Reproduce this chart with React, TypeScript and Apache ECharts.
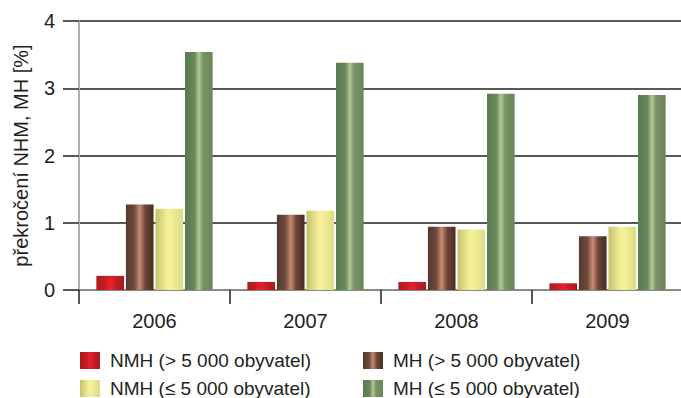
import React, { useEffect, useRef } from "react";
import * as echarts from "echarts";

const years = ["2006", "2007", "2008", "2009"];
const nmhBig = [0.21, 0.12, 0.12, 0.1];
const mhBig = [1.27, 1.12, 0.94, 0.8];
const nmhSmall = [1.21, 1.18, 0.9, 0.94];
const mhSmall = [3.54, 3.38, 2.92, 2.9];
const names = [
  "NMH (> 5 000 obyvatel)",
  "MH (> 5 000 obyvatel)",
  "NMH (≤ 5 000 obyvatel)",
  "MH (≤ 5 000 obyvatel)",
];

const FONT = "Liberation Sans, Arial, sans-serif";

function grad(stops: [number, string][]) {
  return new echarts.graphic.LinearGradient(
    0, 0, 1, 0,
    stops.map(([offset, color]) => ({ offset, color }))
  );
}

const colors = [
  grad([[0, "#a81b20"], [0.3, "#c41d23"], [0.5, "#e8222a"], [0.7, "#c41d23"], [1, "#a81b20"]]),
  grad([[0, "#54382e"], [0.3, "#6e4a3c"], [0.5, "#c88971"], [0.7, "#6a4638"], [1, "#4a2a22"]]),
  grad([[0, "#c2c36a"], [0.45, "#f6f09a"], [0.6, "#f3ee98"], [1, "#dcdb86"]]),
  grad([[0, "#597a52"], [0.35, "#6a8a5c"], [0.5, "#b4ca92"], [0.65, "#7a9468"], [1, "#6b8559"]]),
];

// legend slot positions (left, top) for each series
const legendLeft = [80, 363, 80, 363];
const legendTop = [351, 351, 379, 379];

export default function App() {
  const ref = useRef<HTMLDivElement>(null);
  useEffect(() => {
    if (!ref.current) return;
    const chart = echarts.init(ref.current, undefined, { renderer: "svg" });
    const data = [nmhBig, mhBig, nmhSmall, mhSmall];
    chart.setOption({
      animation: false,
      textStyle: { fontFamily: FONT },
      grid: { left: 79, right: -2, top: 21, bottom: 108, containLabel: false, outerBoundsMode: "none" },
      legend: names.map((n, i) => ({
        data: [n],
        left: legendLeft[i],
        top: legendTop[i],
        padding: 0,
        itemWidth: 20,
        itemHeight: 17,
        icon: "rect",
        textStyle: { fontSize: 19, lineHeight: 17, color: "#231f20", fontFamily: FONT, padding: [0, 0, 0, 5] },
      })),
      xAxis: {
        type: "category",
        data: years,
        axisLine: { lineStyle: { color: "#8a8a8a", width: 2 } },
        axisTick: { show: true, length: 14, lineStyle: { color: "#231f20", width: 1.5 } },
        axisLabel: { fontSize: 20, color: "#231f20", margin: 21, fontFamily: FONT },
      },
      yAxis: {
        type: "value",
        min: 0,
        max: 4,
        interval: 1,
        name: "překročení NHM, MH [%]",
        nameLocation: "middle",
        nameGap: 48,
        nameTextStyle: { fontSize: 20, color: "#231f20", fontFamily: FONT },
        axisLine: { show: true, lineStyle: { color: "#b0b0b0", width: 2 } },
        axisTick: { show: true, length: 16, lineStyle: { color: "#231f20", width: 1.5 } },
        axisLabel: { fontSize: 20, color: "#231f20", margin: 24, fontFamily: FONT },
        splitLine: { show: true, lineStyle: { color: "#231f20", width: 1.5 } },
      },
      series: names.map((n, i) => ({
        name: n,
        type: "bar",
        data: data[i],
        barGap: "7%",
        barCategoryGap: "23%",
        itemStyle: { color: colors[i] },
      })),
    });
    return () => chart.dispose();
  }, []);
  return <div ref={ref} style={{ width: 681, height: 398, position: "absolute", left: 0, top: 0 }} />;
}
